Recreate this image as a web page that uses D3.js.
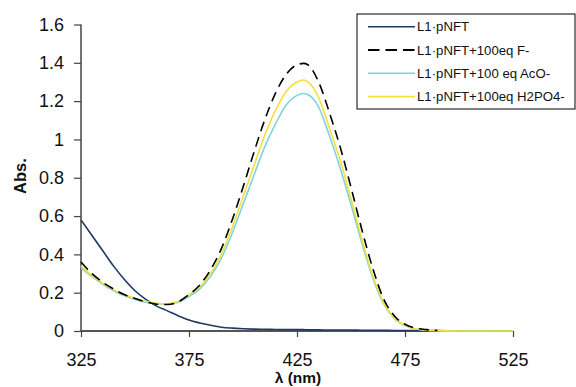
<!DOCTYPE html>
<html><head><meta charset="utf-8">
<script src="https://cdn.jsdelivr.net/npm/d3@7"></script>
<style>body{margin:0;background:#fff}svg{display:block;font-family:"Liberation Sans",Arial,sans-serif}</style>
</head><body><svg id="c" width="576" height="387"></svg>
<script>
const wavelengths = [325,330,335,340,345,350,355,360,365,370,375,380,385,390,395,400,405,410,415,420,425,428,430,435,440,445,450,455,460,465,470,475,480,485,490,500,510,525];
const seriesNames = ["L1·pNFT","L1·pNFT+100eq F-","L1·pNFT+100 eq AcO-","L1·pNFT+100eq H2PO4-"];
const free = [0.58,0.50,0.42,0.34,0.27,0.21,0.165,0.13,0.105,0.08,0.057,0.042,0.03,0.02,0.015,0.012,0.010,0.009,0.008,0.007,0.007,0.007,0.006,0.006,0.005,0.005,0.005,0.004,0.004,0.004,0.003,0.003,0.002,0.002,0.002,0.001,0.001,0.0];
const fluoride = [0.36,0.30,0.255,0.22,0.19,0.17,0.152,0.14,0.138,0.152,0.19,0.24,0.32,0.43,0.58,0.75,0.93,1.10,1.24,1.34,1.39,1.397,1.39,1.30,1.14,0.96,0.75,0.53,0.33,0.17,0.08,0.035,0.015,0.007,0.003,null,null,null];
const acetate = [0.33,0.285,0.245,0.21,0.185,0.165,0.15,0.142,0.14,0.15,0.18,0.22,0.285,0.38,0.51,0.66,0.81,0.96,1.08,1.18,1.23,1.24,1.235,1.17,1.02,0.85,0.66,0.46,0.28,0.145,0.065,0.028,0.01,0.004,0.002,0.0,0.0,0.0];
const phosphate = [0.34,0.29,0.25,0.215,0.19,0.17,0.155,0.145,0.142,0.155,0.19,0.23,0.30,0.40,0.54,0.70,0.86,1.02,1.15,1.25,1.30,1.31,1.30,1.22,1.06,0.89,0.69,0.48,0.29,0.15,0.07,0.03,0.01,0.004,0.002,0.0,0.0,0.0];
const xTicks = [325,375,425,475,525];
const yTicks = [0,0.2,0.4,0.6,0.8,1,1.2,1.4,1.6];
const colors = ["#1f3864","#000000","#7fd3dc","#f2e13c"];
const dashes = [null,"10,6",null,null];
const seriesData = [free, fluoride, acetate, phosphate];

const svg = d3.select("#c");
const x = d3.scaleLinear().domain([325,525]).range([81,513]);
const y = d3.scaleLinear().domain([0,1.6]).range([331,24.5]);

// y axis
const ya = svg.append("g").attr("transform","translate(81,0)")
  .call(d3.axisLeft(y).tickValues(yTicks).tickSize(7).tickPadding(10).tickFormat(d=>String(+d.toFixed(1))));
ya.select(".domain").attr("stroke","#444").attr("stroke-width",1.5).attr("d","M0,24.5V331");
ya.selectAll(".tick line").attr("stroke","#444").attr("stroke-width",1.2);
ya.selectAll(".tick text").attr("font-size",18).attr("fill","#111").attr("font-family","Liberation Sans, Arial, sans-serif");

// x axis
const xa = svg.append("g").attr("transform","translate(0,331)")
  .call(d3.axisBottom(x).tickValues(xTicks).tickSize(6).tickPadding(16).tickFormat(d3.format("d")));
xa.select(".domain").attr("stroke","#555").attr("stroke-width",2).attr("d","M81,0H513");
xa.selectAll(".tick line").attr("stroke","#444").attr("stroke-width",1.2);
xa.selectAll(".tick text").attr("font-size",18).attr("fill","#111").attr("font-family","Liberation Sans, Arial, sans-serif");

// lines
const line = d3.line().defined(d=>d[1]!=null).x(d=>x(d[0])).y(d=>y(d[1])).curve(d3.curveMonotoneX);
const order = [0,2,3,1];
order.forEach(i=>{
  svg.append("path").datum(wavelengths.map((w,j)=>[w,seriesData[i][j]]))
    .attr("d",line).attr("fill","none").attr("stroke",colors[i]).attr("stroke-width",1.6)
    .attr("stroke-dasharray",dashes[i]);
});

// axis titles
svg.append("text").attr("x",298).attr("y",383).attr("text-anchor","middle")
  .attr("font-size",15.5).attr("font-weight","bold").attr("fill","#111").text("λ (nm)");
svg.append("text").attr("transform","translate(26,176) rotate(-90)").attr("text-anchor","middle")
  .attr("font-size",16.5).attr("font-weight","bold").attr("fill","#111").text("Abs.");

// legend
const lg = svg.append("g");
lg.append("rect").attr("x",357).attr("y",14).attr("width",218).attr("height",95)
  .attr("fill","#fff").attr("stroke","#000").attr("stroke-width",1);
seriesNames.forEach((n,i)=>{
  const yy = 26.7 + i*23.3;
  lg.append("line").attr("x1",368).attr("x2",415).attr("y1",yy).attr("y2",yy)
    .attr("stroke",colors[i]).attr("stroke-width",i===1?2:1.6).attr("stroke-dasharray",dashes[i] ? "11.5,6" : null);
  lg.append("text").attr("x",417).attr("y",yy).attr("dy","0.35em").attr("font-size",13.2).attr("fill","#111").text(n);
});
</script></body></html>
